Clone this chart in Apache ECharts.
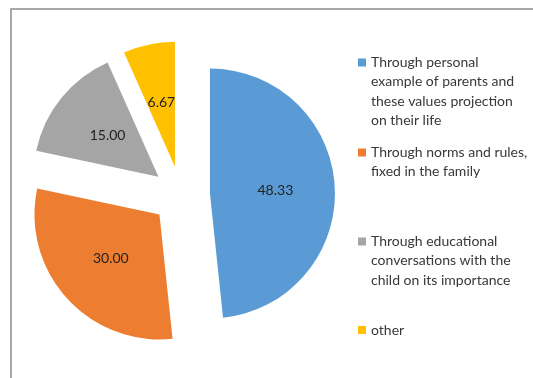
<!DOCTYPE html>
<html>
<head>
<meta charset="utf-8">
<script src="https://cdn.jsdelivr.net/npm/echarts@6/dist/echarts.min.js"></script>
<style>
  html, body { margin: 0; padding: 0; background: #fff; }
  #chart { width: 533px; height: 378px; }
</style>
</head>
<body>
<div id="chart"></div>
<script>
// Ways of passing on values (shares, %)
const categories = [
  'Through personal example of parents and these values projection on their life',
  'Through norms and rules, fixed in the family',
  'Through educational conversations with the child on its importance',
  'other'
];
const legendLines = [
  ['Through personal', 'example of parents and', 'these values projection', 'on their life'],
  ['Through norms and rules,', 'fixed in the family'],
  ['Through educational', 'conversations with the', 'child on its importance'],
  ['other']
];
const values = [48.33, 30.00, 15.00, 6.67];
const colors = ['#5B9BD5', '#ED7D31', '#A5A5A5', '#FFC000'];

const FONT = 'Lato';
const LH = 19.3;                         // legend line height
const iconTops = [58.5, 148.5, 237.5, 326];

const chart = echarts.init(document.getElementById('chart'), null, { renderer: 'canvas' });

// One legend block per category. Legend text is centred on its marker, so
// empty lines are put in front of the wrapped text to keep the marker level
// with the first line.
const legends = legendLines.map((lines, i) => ({
  data: [categories[i]],
  orient: 'vertical',
  left: 358,
  top: iconTops[i] + 4 - (2 * lines.length - 1) * LH / 2,
  padding: 0,
  itemWidth: 8,
  itemHeight: 8,
  icon: 'rect',
  selectedMode: false,
  formatter: () => '\n'.repeat(lines.length - 1) + lines.join('\n'),
  textStyle: {
    fontFamily: FONT,
    fontSize: 14,
    color: '#383838',
    lineHeight: LH
  }
}));

chart.setOption({
  animation: false,
  backgroundColor: '#fff',
  graphic: [{
    type: 'rect',
    silent: true,
    shape: { x: 11, y: 9, width: 700, height: 600 },
    style: { fill: 'none', stroke: '#8c8c8c', lineWidth: 1.5 }
  }],
  legend: legends,
  series: [{
    type: 'pie',
    center: [181, 195],
    radius: 125,
    startAngle: 90,
    clockwise: true,
    selectedMode: 'multiple',
    selectedOffset: 29,
    label: {
      show: true,
      position: 'inside',
      formatter: p => p.value.toFixed(2),
      color: '#222',
      fontFamily: FONT,
      fontSize: 14
    },
    labelLine: { show: false },
    emphasis: { disabled: true },
    itemStyle: { borderWidth: 0 },
    data: values.map((v, i) => ({
      name: categories[i],
      value: v,
      selected: true,
      itemStyle: { color: colors[i] }
    }))
  }]
});
</script>
</body>
</html>
